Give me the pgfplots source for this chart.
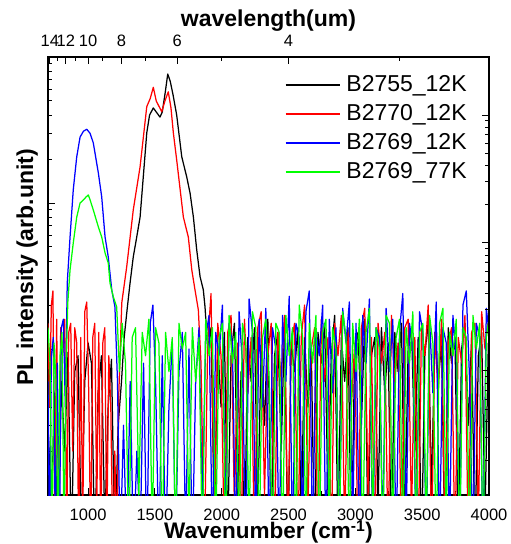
\documentclass[border=0pt]{standalone}
\usepackage{fontspec}
\setmainfont{Liberation Sans}
\usepackage{pgfplots}
\pgfplotsset{compat=1.18}

\pgfplotsset{
  pl/.style={no markers, line width=1.25pt, line join=round},
  plframe/.style={
    scale only axis, width=441pt, height=438pt,
    xmin=700, xmax=4000,
    tick align=inside,
    major tick length=7pt, minor tick length=4pt,
    axis line style={line width=1.3pt},
    every tick/.style={black, line width=1pt},
    ticklabel style={font=\fontsize{16.5}{16.5}\selectfont},
    /pgf/number format/assume math mode=true,
    /pgf/number format/1000 sep={},
  },
}

\begin{document}
\begin{tikzpicture}
\begin{axis}[plframe, name=main, ymode=log,
  ymin=1e-3, ymax=1, yticklabels={},
  xtick={1000,1500,...,4000}, minor x tick num=1,
  xtick pos=lower, ytick pos=left,
  xticklabel style={anchor=base, yshift=-25pt},
  xlabel={Wavenumber (cm\textsuperscript{-1})},
  ylabel={PL intensity (arb.unit)},
  xlabel style={at={(rel axis cs:0.5,-0.1)}, anchor=base, font=\fontsize{22.5}{22.5}\selectfont\bfseries},
  ylabel style={at={(rel axis cs:-0.034,0.52)}, anchor=base, font=\fontsize{23}{23}\selectfont\bfseries},
  legend cell align=left,
  legend style={draw=none, fill=none, inner sep=0pt,
    at={(rel axis cs:0.537,0.966)}, anchor=north west,
    font=\fontsize{23}{23}\selectfont, row sep=3pt,
    nodes={inner sep=2pt, text height=17pt, text depth=5pt},
    /tikz/every odd column/.append style={column sep=4pt}},
  legend image code/.code={\draw[#1, line width=1.4pt] (0pt,0pt) -- (54pt,0pt);},
]
% B2755_12K
\addplot[pl, black] coordinates {
(700,0.0030) (725,0.0008) (750,0.0050) (775,0.0004) (800,0.0060) (825,0.0020)
(850,0.0095) (875,0.0004) (900,0.0070) (925,0.0090) (950,0.0005) (975,0.0060)
(1000,0.0110) (1025,0.0080) (1050,0.0004) (1075,0.0050) (1100,0.0090) (1125,0.0006)
(1150,0.0040) (1175,0.0085) (1200,0.0004) (1225,0.0030)
(1250,0.006) (1270,0.012) (1294,0.0194) (1314,0.0283) (1338,0.0427) (1364,0.0585)
(1389,0.080) (1413,0.151) (1439,0.302) (1460,0.40) (1488,0.448) (1510,0.42)
(1538,0.388) (1555,0.42) (1578,0.578) (1596,0.765) (1615,0.68) (1636,0.549)
(1663,0.40) (1701,0.207) (1738,0.151) (1763,0.117) (1788,0.080) (1813,0.0476)
(1838,0.0313) (1862,0.0255) (1875,0.0194) (1895,0.010)
(1920,0.0140) (1945,0.0006) (1970,0.0110) (1995,0.0040) (2020,0.0130) (2045,0.0005)
(2070,0.0090) (2095,0.0150) (2120,0.0010) (2145,0.0070) (2170,0.0004) (2195,0.0120)
(2220,0.0060) (2245,0.0140) (2270,0.0008) (2295,0.0100) (2320,0.0030) (2345,0.0160)
(2370,0.0005) (2395,0.0090) (2420,0.0130) (2445,0.0020) (2470,0.0150) (2495,0.0004)
(2520,0.0110) (2545,0.0070) (2570,0.0140) (2595,0.0006) (2620,0.0120) (2645,0.0040)
(2670,0.0100) (2695,0.0004) (2720,0.0130) (2745,0.0080) (2770,0.0150) (2795,0.0010)
(2820,0.0090) (2845,0.0170) (2870,0.0005) (2895,0.0120) (2920,0.0060) (2945,0.0140)
(2970,0.0004) (2995,0.0100) (3020,0.0130) (3045,0.0030) (3070,0.0160) (3095,0.0005)
(3120,0.0090) (3145,0.0120) (3170,0.0008) (3195,0.0140) (3220,0.0050) (3245,0.0110)
(3270,0.0004) (3295,0.0130) (3320,0.0070) (3345,0.0150) (3370,0.0006) (3395,0.0100)
(3420,0.0140) (3445,0.0020) (3470,0.0120) (3495,0.0004) (3520,0.0090) (3545,0.0160)
(3570,0.0010) (3595,0.0130) (3620,0.0060) (3645,0.0110) (3670,0.0004) (3695,0.0140)
(3720,0.0080) (3745,0.0120) (3770,0.0005) (3795,0.0100) (3820,0.0150) (3845,0.0030)
(3870,0.0120) (3895,0.0004) (3920,0.0090) (3945,0.0130) (3970,0.0007) (3995,0.0110)
};
% B2770_12K
\addplot[pl, red] coordinates {
(700,0.0150) (712,0.0040) (725,0.0200) (737,0.0250) (750,0.0008) (765,0.0160)
(780,0.0004) (795,0.0140) (810,0.0090) (825,0.0160) (840,0.0005) (855,0.0130)
(870,0.0150) (885,0.0020) (900,0.0140) (915,0.0110) (930,0.0004) (945,0.0120)
(960,0.0006) (975,0.0180) (990,0.0210) (1005,0.0050) (1020,0.0004) (1035,0.0120)
(1050,0.0150) (1065,0.0008) (1080,0.0130) (1095,0.0004) (1110,0.0110) (1125,0.0140)
(1140,0.0005) (1155,0.0090) (1170,0.0040) (1185,0.0004) (1200,0.0020) (1215,0.0004)
(1230,0.005) (1252,0.0207) (1289,0.0366) (1338,0.0896) (1389,0.177) (1439,0.457)
(1465,0.52) (1488,0.620) (1510,0.50) (1551,0.422) (1575,0.50) (1600,0.578)
(1620,0.45) (1638,0.302) (1663,0.197) (1713,0.080) (1750,0.0585) (1776,0.0348)
(1800,0.0254) (1825,0.0185) (1845,0.008)
(1870,0.0004) (1895,0.0110) (1920,0.0240) (1945,0.0006) (1970,0.0150) (1995,0.0090)
(2020,0.0004) (2045,0.0130) (2070,0.0170) (2095,0.0008) (2120,0.0110) (2145,0.0004)
(2170,0.0160) (2195,0.0050) (2220,0.0120) (2245,0.0004) (2270,0.0140) (2295,0.0180)
(2320,0.0010) (2345,0.0090) (2370,0.0150) (2395,0.0004) (2420,0.0130) (2445,0.0060)
(2470,0.0170) (2495,0.0005) (2520,0.0110) (2545,0.0150) (2570,0.0004) (2595,0.0120)
(2620,0.0200) (2645,0.0008) (2670,0.0100) (2695,0.0140) (2720,0.0004) (2745,0.0160)
(2770,0.0060) (2795,0.0120) (2820,0.0004) (2845,0.0150) (2870,0.0090) (2895,0.0170)
(2920,0.0005) (2945,0.0130) (2970,0.0040) (2995,0.0110) (3020,0.0004) (3045,0.0140)
(3070,0.0190) (3095,0.0010) (3120,0.0120) (3145,0.0004) (3170,0.0150) (3195,0.0080)
(3220,0.0130) (3245,0.0004) (3270,0.0170) (3295,0.0060) (3320,0.0110) (3345,0.0004)
(3370,0.0140) (3395,0.0160) (3420,0.0007) (3445,0.0120) (3470,0.0004) (3495,0.0150)
(3520,0.0090) (3545,0.0200) (3570,0.0004) (3595,0.0130) (3620,0.0050) (3645,0.0160)
(3670,0.0005) (3695,0.0110) (3720,0.0140) (3745,0.0004) (3770,0.0120) (3795,0.0080)
(3820,0.0170) (3845,0.0004) (3870,0.0130) (3895,0.0150) (3920,0.0006) (3945,0.0180)
(3970,0.0100) (3990,0.0150)
};
% B2769_12K
\addplot[pl, blue] coordinates {
(700,0.0060) (712,0.0004) (725,0.0090) (740,0.0120) (755,0.0005) (770,0.0080)
(785,0.0004) (800,0.0140) (815,0.0160) (830,0.0040)
(844,0.0283) (865,0.0585) (889,0.123) (915,0.207) (940,0.283) (965,0.31)
(990,0.320) (1015,0.30) (1039,0.258) (1077,0.160) (1102,0.110) (1127,0.0585)
(1151,0.0427) (1177,0.0254) (1201,0.0194) (1220,0.006)
(1240,0.0004) (1265,0.0030) (1290,0.0004) (1315,0.0060) (1340,0.0004) (1365,0.0020)
(1390,0.0005) (1415,0.0080) (1440,0.0004) (1465,0.0150) (1485,0.0200) (1505,0.0060)
(1530,0.0004) (1555,0.0090) (1580,0.0004) (1605,0.0040) (1630,0.0110) (1655,0.0004)
(1680,0.0070) (1705,0.0130) (1730,0.0005) (1755,0.0100) (1780,0.0004) (1805,0.0060)
(1830,0.0140) (1855,0.0008) (1880,0.0120) (1905,0.0170) (1930,0.0004) (1955,0.0130)
(1980,0.0090) (2005,0.0200) (2030,0.0006) (2055,0.0150) (2080,0.0110) (2105,0.0004)
(2130,0.0180) (2155,0.0080) (2180,0.0004) (2205,0.0220) (2230,0.0130) (2255,0.0005)
(2280,0.0160) (2305,0.0040) (2330,0.0190) (2355,0.0004) (2380,0.0140) (2405,0.0100)
(2430,0.0004) (2455,0.0170) (2480,0.0060) (2505,0.0230) (2530,0.0004) (2555,0.0150)
(2580,0.0120) (2605,0.0005) (2630,0.0180) (2655,0.0250) (2680,0.0004) (2705,0.0130)
(2730,0.0090) (2755,0.0200) (2780,0.0004) (2805,0.0160) (2830,0.0050) (2855,0.0140)
(2880,0.0004) (2905,0.0190) (2930,0.0110) (2955,0.0210) (2980,0.0006) (3005,0.0150)
(3030,0.0004) (3055,0.0170) (3080,0.0080) (3105,0.0220) (3130,0.0004) (3155,0.0140)
(3180,0.0120) (3205,0.0005) (3230,0.0190) (3255,0.0070) (3280,0.0160) (3305,0.0004)
(3330,0.0130) (3355,0.0240) (3380,0.0006) (3405,0.0150) (3430,0.0100) (3455,0.0004)
(3480,0.0180) (3505,0.0130) (3530,0.0004) (3555,0.0160) (3580,0.0050) (3605,0.0210)
(3630,0.0004) (3655,0.0140) (3680,0.0110) (3705,0.0005) (3730,0.0170) (3755,0.0090)
(3780,0.0004) (3805,0.0200) (3830,0.0250) (3855,0.0060) (3880,0.0004) (3905,0.0150)
(3930,0.0120) (3955,0.0004) (3980,0.0190) (4000,0.0130)
};
% B2769_77K
\addplot[pl, green] coordinates {
(700,0.0140) (715,0.0080) (730,0.0004) (745,0.0110) (760,0.0060) (775,0.0004)
(790,0.0090) (805,0.0130) (820,0.0005) (835,0.0070)
(848,0.0207) (865,0.0348) (889,0.0532) (915,0.080) (940,0.100) (965,0.105)
(985,0.110) (1002,0.1135) (1015,0.105) (1039,0.0896) (1077,0.0685) (1102,0.0585)
(1127,0.0455) (1151,0.0388) (1164,0.0283) (1189,0.0227) (1214,0.0194) (1235,0.007)
(1255,0.0150) (1280,0.0080) (1305,0.0004) (1330,0.0120) (1355,0.0140) (1380,0.0010)
(1405,0.0130) (1430,0.0090) (1455,0.0160) (1480,0.0005) (1505,0.0140) (1530,0.0110)
(1555,0.0004) (1580,0.0130) (1605,0.0070) (1630,0.0120) (1655,0.0004) (1680,0.0150)
(1705,0.0100) (1730,0.0130) (1755,0.0006) (1780,0.0140) (1805,0.0060) (1830,0.0120)
(1855,0.0004) (1880,0.0160) (1905,0.0090) (1930,0.0140) (1955,0.0005) (1980,0.0120)
(2005,0.0150) (2030,0.0004) (2055,0.0170) (2080,0.0080) (2105,0.0130) (2130,0.0004)
(2155,0.0150) (2180,0.0110) (2205,0.0005) (2230,0.0180) (2255,0.0140) (2280,0.0004)
(2305,0.0120) (2330,0.0160) (2355,0.0060) (2380,0.0004) (2405,0.0150) (2430,0.0130)
(2455,0.0004) (2480,0.0170) (2505,0.0090) (2530,0.0140) (2555,0.0004) (2580,0.0200)
(2605,0.0120) (2630,0.0005) (2655,0.0150) (2680,0.0080) (2705,0.0170) (2730,0.0004)
(2755,0.0130) (2780,0.0160) (2805,0.0006) (2830,0.0140) (2855,0.0100) (2880,0.0004)
(2905,0.0180) (2930,0.0120) (2955,0.0004) (2980,0.0150) (3005,0.0070) (3030,0.0160)
(3055,0.0004) (3080,0.0130) (3105,0.0190) (3130,0.0006) (3155,0.0140) (3180,0.0100)
(3205,0.0004) (3230,0.0170) (3255,0.0150) (3280,0.0005) (3305,0.0120) (3330,0.0160)
(3355,0.0004) (3380,0.0140) (3405,0.0080) (3430,0.0180) (3455,0.0004) (3480,0.0130)
(3505,0.0150) (3530,0.0005) (3555,0.0170) (3580,0.0110) (3605,0.0004) (3630,0.0150)
(3655,0.0190) (3680,0.0006) (3705,0.0130) (3730,0.0090) (3755,0.0160) (3780,0.0004)
(3805,0.0140) (3830,0.0120) (3855,0.0004) (3880,0.0170) (3905,0.0100) (3930,0.0150)
(3955,0.0004) (3980,0.0120) (4000,0.0160)
};
\legend{B2755\_12K, B2770\_12K, B2769\_12K, B2769\_77K}
\end{axis}
% top wavelength axis and right-hand log scale
\begin{axis}[plframe, ymode=log,
  ymin=1.074e-3, ymax=2.84, yticklabels={},
  axis x line*=top, axis y line*=right,
  xtick={714.29,833.33,1000,1250,1666.67,2500},
  xticklabels={14,12,10,8,6,4},
  minor xtick={769.23,909.09,1111.11,1428.57,2000,3333.33},
  xticklabel style={anchor=base, yshift=10pt},
  xlabel={wavelength(um)},
  xlabel style={at={(rel axis cs:0.5,1.0685)}, anchor=base, font=\fontsize{23}{23}\selectfont\bfseries},
]
\end{axis}
\pgfresetboundingbox
\path ([shift={(-48pt,-49pt)}]main.south west) rectangle ([shift={(21pt,57pt)}]main.north east);
\end{tikzpicture}
\end{document}
